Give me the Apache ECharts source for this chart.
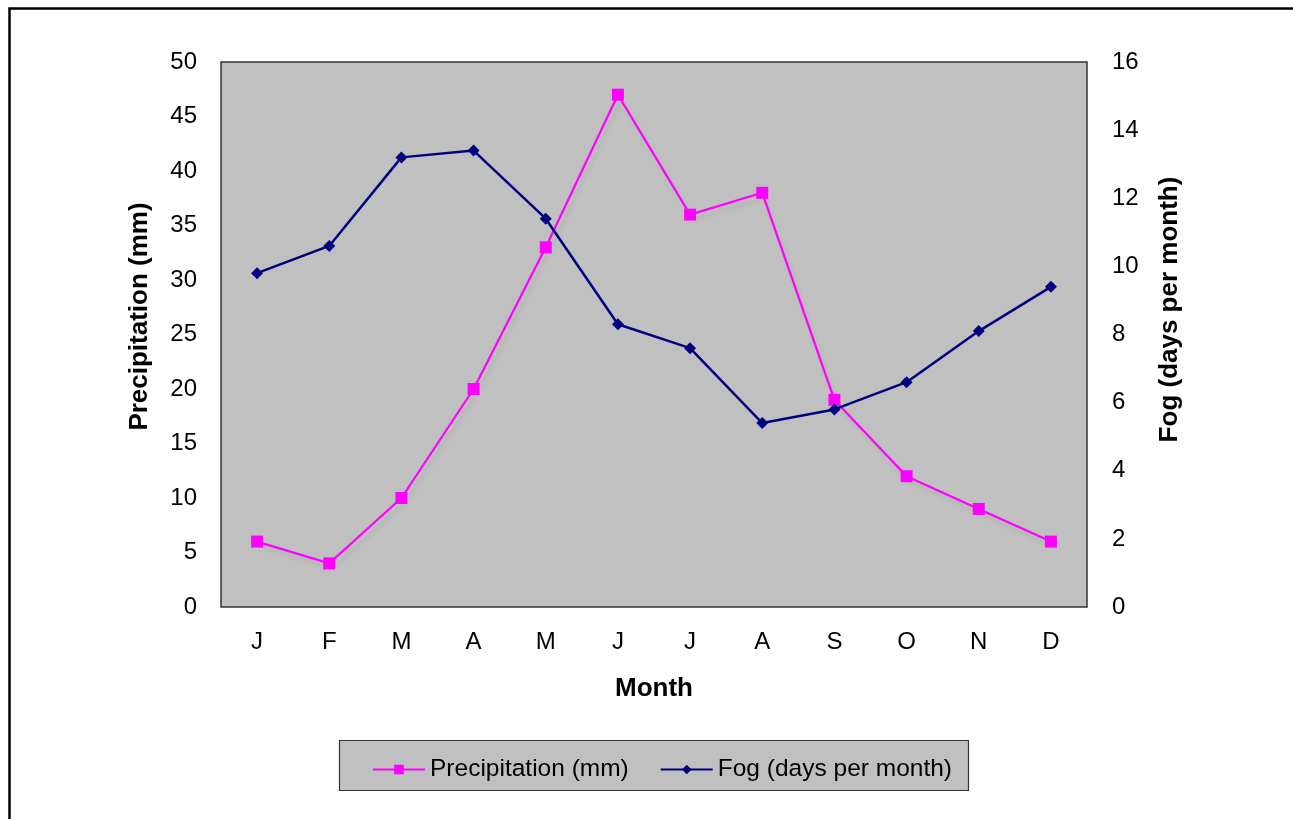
<!DOCTYPE html>
<html>
<head>
<meta charset="utf-8">
<script src="https://cdn.jsdelivr.net/npm/echarts@6/dist/echarts.min.js"></script>
<style>html,body{margin:0;padding:0;background:#fff;}#c{width:1293px;height:819px;}</style>
</head>
<body>
<div id="c"></div>
<script>
const months = ['J','F','M','A','M','J','J','A','S','O','N','D'];
const precipitation = [6, 4, 10, 20, 33, 47, 36, 38, 19, 12, 9, 6];
const fog = [9.8, 10.6, 13.2, 13.4, 11.4, 8.3, 7.6, 5.4, 5.8, 6.6, 8.1, 9.4];
const precipTicks = [0, 50, 5];
const fogTicks = [0, 16, 2];

const FONT = '"Liberation Sans", Arial, sans-serif';
const chart = echarts.init(document.getElementById('c'), null, {renderer: 'canvas'});
chart.setOption({
  animation: false,
  backgroundColor: '#ffffff',
  textStyle: {fontFamily: FONT, color: '#000'},
  graphic: [
    {type: 'rect', shape: {x: 9.5, y: 8.5, width: 2000, height: 2000}, style: {fill: 'none', stroke: '#000', lineWidth: 2.5}, z: 100},
    {type: 'rect', shape: {x: 339.5, y: 740.5, width: 629, height: 50}, style: {fill: '#c0c0c0', stroke: '#333', lineWidth: 1.2}, z: -1}
  ],
  grid: {left: 221, right: 206, top: 62, bottom: 212, show: true, backgroundColor: '#c0c0c0', borderColor: '#333', borderWidth: 1.5},
  legend: {
    left: 367, top: 752,
    itemWidth: 52, itemHeight: 12, itemGap: 31,
    textStyle: {fontFamily: FONT, fontSize: 24.5, color: '#000'},
    data: ['Precipitation (mm)', 'Fog (days per month)']
  },
  xAxis: {
    type: 'category', data: months, boundaryGap: true,
    axisLine: {show: false}, axisTick: {show: false}, splitLine: {show: false},
    axisLabel: {fontSize: 24, color: '#000', margin: 23, fontFamily: FONT},
    name: 'Month', nameLocation: 'middle', nameGap: 69,
    nameTextStyle: {fontSize: 26, fontWeight: 'bold', color: '#000', fontFamily: FONT}
  },
  yAxis: [
    {
      type: 'value', min: precipTicks[0], max: precipTicks[1], interval: precipTicks[2],
      axisLine: {show: false}, axisTick: {show: false}, splitLine: {show: false},
      axisLabel: {fontSize: 24, color: '#000', margin: 24, fontFamily: FONT},
      name: 'Precipitation (mm)', nameLocation: 'middle', nameRotate: 90, nameGap: 68,
      nameTextStyle: {fontSize: 26, fontWeight: 'bold', color: '#000', fontFamily: FONT, padding: [0, 0, 0, 36]}
    },
    {
      type: 'value', min: fogTicks[0], max: fogTicks[1], interval: fogTicks[2], position: 'right',
      axisLine: {show: false}, axisTick: {show: false}, splitLine: {show: false},
      axisLabel: {fontSize: 24, color: '#000', margin: 25, fontFamily: FONT},
      name: 'Fog (days per month)', nameLocation: 'middle', nameRotate: 90, nameGap: 70,
      nameTextStyle: {fontSize: 26, fontWeight: 'bold', color: '#000', fontFamily: FONT, padding: [0, 0, 0, 50]}
    }
  ],
  series: [
    {
      name: 'Precipitation (mm)', type: 'line', yAxisIndex: 0, data: precipitation,
      symbol: 'rect', symbolSize: 12,
      itemStyle: {color: '#ff00ff'},
      lineStyle: {color: '#ff00ff', width: 2.2, shadowColor: 'rgba(0,0,0,0.08)', shadowBlur: 4, shadowOffsetX: 3, shadowOffsetY: 5}
    },
    {
      name: 'Fog (days per month)', type: 'line', yAxisIndex: 1, data: fog,
      symbol: 'diamond', symbolSize: 12,
      itemStyle: {color: '#000080'},
      lineStyle: {color: '#000080', width: 2.5}
    }
  ]
});
</script>
</body>
</html>
